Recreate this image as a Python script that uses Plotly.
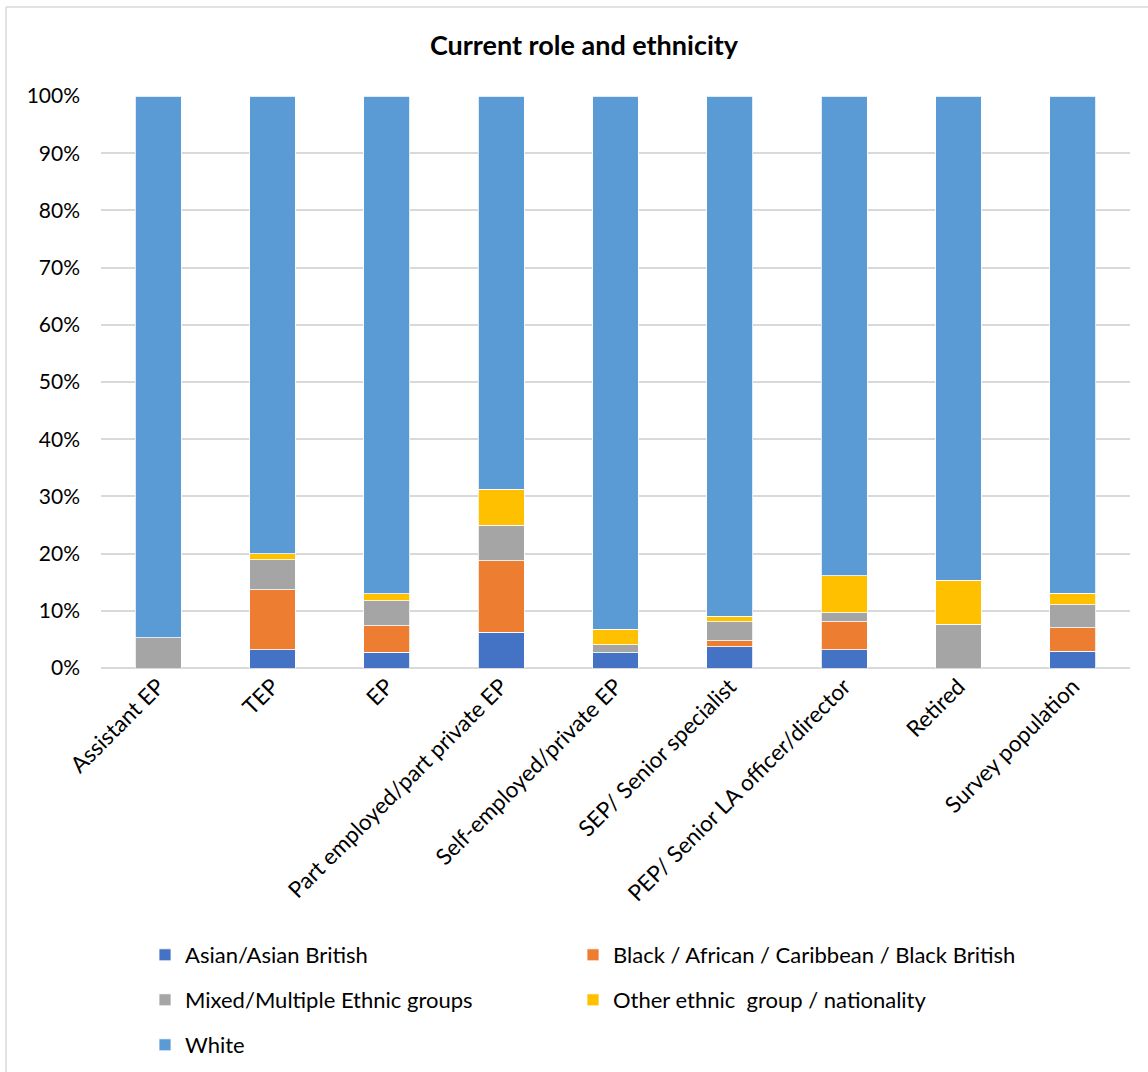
import plotly.graph_objects as go

# Role categories along the x axis
roles = [
    "Assistant EP", "TEP", "EP", "Part employed/part private EP",
    "Self-employed/private EP", "SEP/ Senior specialist",
    "PEP/ Senior LA officer/director", "Retired", "Survey population",
]

# Share of each ethnic group within each role (percent)
asian = [0.0, 3.16, 2.74, 6.25, 2.70, 3.70, 3.23, 0.0, 2.97]
black = [0.0, 10.53, 4.61, 12.50, 0.0, 1.05, 4.84, 0.0, 4.09]
mixed = [5.26, 5.26, 4.37, 6.25, 1.35, 3.30, 1.61, 7.69, 4.02]
other = [0.0, 1.05, 1.22, 6.25, 2.70, 0.99, 6.45, 7.69, 1.98]
white = [94.74, 80.00, 87.06, 68.75, 93.25, 90.96, 83.87, 84.62, 86.94]

series_names = [
    "Asian/Asian British",
    "Black / African / Caribbean / Black British",
    "Mixed/Multiple Ethnic groups",
    "Other ethnic  group / nationality",
    "White",
]
series_values = [asian, black, mixed, other, white]
series_colors = ["#4472C4", "#ED7D31", "#A5A5A5", "#FFC000", "#5B9BD5"]

y_ticks = list(range(0, 101, 10))
y_tick_labels = [f"{v}%" for v in y_ticks]

FONT = "Lato, 'Open Sans', sans-serif"
W, H = 1148, 1072
L, R, T, B = 101, 18, 96, 404
plot_w = W - L - R
plot_h = H - T - B


def px_x(px):
    return (px - L) / plot_w


def px_y(py):
    return (H - B - py) / plot_h


# one single-entry legend per series, laid out in a two-column grid
legend_ids = ["legend", "legend2", "legend3", "legend4", "legend5"]
legend_pos = [(145, 955), (573, 955), (145, 1000), (573, 1000), (145, 1045)]

fig = go.Figure()
for name, vals, color, leg in zip(series_names, series_values, series_colors, legend_ids):
    fig.add_trace(go.Bar(
        x=roles, y=vals, name=name, legend=leg, showlegend=True,
        marker=dict(color=color, line=dict(color="white", width=0.8)),
    ))

legend_layout = {}
for leg, (lx, ly) in zip(legend_ids, legend_pos):
    legend_layout[leg] = dict(
        x=px_x(lx), y=px_y(ly),
        orientation="h", xanchor="left", yanchor="middle",
        font=dict(family=FONT, size=22, color="#000000"),
        bgcolor="rgba(0,0,0,0)", itemwidth=30,
    )

fig.update_layout(
    width=W, height=H,
    showlegend=True,
    margin=dict(l=L, r=R, t=T, b=B, autoexpand=False),
    barmode="stack", bargap=0.6,
    paper_bgcolor="white", plot_bgcolor="white",
    font=dict(family=FONT, size=21, color="#000000"),
    title=dict(
        text="<b>Current role and ethnicity</b>",
        x=584 / W, xanchor="center",
        y=1 - 46 / H, yanchor="middle",
        font=dict(family=FONT, size=27, color="#000000"),
    ),
    xaxis=dict(
        tickangle=-45, showgrid=False, showline=False, ticks="",
        tickfont=dict(family=FONT, size=22.5, color="#000000"),
    ),
    yaxis=dict(
        range=[0, 100], tickvals=y_ticks, ticktext=y_tick_labels,
        showgrid=True, gridcolor="#D9D9D9", gridwidth=1.5,
        zeroline=True, zerolinecolor="#D9D9D9", zerolinewidth=1.5,
        showline=False, ticks="", ticklabelstandoff=20,
        tickfont=dict(family=FONT, size=21, color="#000000"),
    ),
    shapes=[
        dict(type="line", xref="paper", yref="paper",
             x0=px_x(6), x1=px_x(1160), y0=px_y(7), y1=px_y(7),
             line=dict(color="#D9D9D9", width=1.5)),
        dict(type="line", xref="paper", yref="paper",
             x0=px_x(6), x1=px_x(6), y0=px_y(7), y1=px_y(1090),
             line=dict(color="#D9D9D9", width=1.5)),
    ],
    **legend_layout,
)

fig.write_html("out.html")
